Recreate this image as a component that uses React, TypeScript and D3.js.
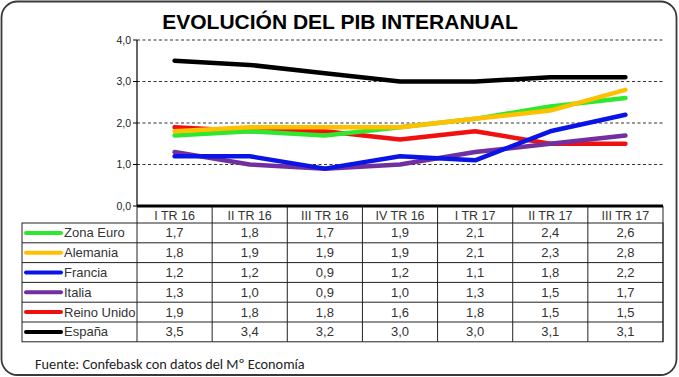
import React from "react";
import * as d3 from "d3";

const categories = ["I TR 16", "II TR 16", "III TR 16", "IV TR 16", "I TR 17", "II TR 17", "III TR 17"];
const seriesNames = ["Zona Euro", "Alemania", "Francia", "Italia", "Reino Unido", "España"];
const seriesColors = ["#2ee82e", "#ffc000", "#0a14e6", "#7030a0", "#f01010", "#000000"];
const zonaEuro = [1.7, 1.8, 1.7, 1.9, 2.1, 2.4, 2.6];
const alemania = [1.8, 1.9, 1.9, 1.9, 2.1, 2.3, 2.8];
const francia = [1.2, 1.2, 0.9, 1.2, 1.1, 1.8, 2.2];
const italia = [1.3, 1.0, 0.9, 1.0, 1.3, 1.5, 1.7];
const reinoUnido = [1.9, 1.8, 1.8, 1.6, 1.8, 1.5, 1.5];
const espana = [3.5, 3.4, 3.2, 3.0, 3.0, 3.1, 3.1];
const yTicks = [0, 1, 2, 3, 4];
const title = "EVOLUCIÓN DEL PIB INTERANUAL";
const source = "Fuente: Confebask con datos del Mº Economía";

const seriesValues = [zonaEuro, alemania, francia, italia, reinoUnido, espana];
const drawOrder = [4, 3, 2, 0, 1, 5];

export default function App() {
  const W = 679, H = 377;
  const left = 137, right = 663, top = 40, bottom = 206;
  const tableLeft = 22;
  const headerH = 17;
  const rowH = 19.8;
  const x = d3.scaleBand<string>().domain(categories).range([left, right]);
  const y = d3.scaleLinear().domain([0, 4]).range([bottom, top]);
  const fmt = (v: number) => d3.format(".1f")(v).replace(".", ",");
  const line = d3.line<number>()
    .x((_, i) => (x(categories[i]) as number) + x.bandwidth() / 2)
    .y((d) => y(d));
  const tableTop = bottom + headerH;
  const tableBottom = tableTop + rowH * seriesNames.length;
  const font = "Arial, 'Liberation Sans', sans-serif";

  return (
    <svg width={W} height={H} style={{ position: "absolute", left: 0, top: 0, background: "#fff" }}>
      <rect x={1.5} y={1.5} width={W - 4} height={H - 3.5} rx={16} ry={16} fill="#fff" stroke="#3a3a3a" strokeWidth={1.8} />
      <text x={340} y={29} textAnchor="middle" fontFamily={font} fontWeight="bold" fontSize={21} fill="#000">{title}</text>

      {/* grid */}
      {yTicks.filter((t) => t > 0).map((t) => (
        <line key={t} x1={left} x2={right} y1={y(t)} y2={y(t)} stroke="#333" strokeWidth={1} strokeDasharray="3,2.5" />
      ))}
      {/* y axis */}
      <line x1={left} x2={left} y1={top} y2={bottom} stroke="#000" strokeWidth={1.2} />
      {yTicks.map((t) => (
        <g key={"t" + t}>
          <line x1={left - 4} x2={left} y1={y(t)} y2={y(t)} stroke="#000" strokeWidth={1} />
          <text x={left - 6} y={y(t) + 3.5} textAnchor="end" fontFamily={font} fontSize={10.5} fill="#222">{fmt(t)}</text>
        </g>
      ))}

      {/* lines */}
      {drawOrder.map((si) => (
        <path key={seriesNames[si]} d={line(seriesValues[si]) as string} fill="none" stroke={seriesColors[si]}
          strokeWidth={4.5} strokeLinejoin="round" strokeLinecap="round" />
      ))}

      {/* table header */}
      {categories.map((c, i) => (
        <text key={c} x={(x(c) as number) + x.bandwidth() / 2} y={bottom + 13.5} textAnchor="middle" fontFamily={font} fontSize={12.5} fill="#333">{c}</text>
      ))}
      {/* table grid */}
      <rect x={tableLeft} y={tableTop} width={right - tableLeft} height={tableBottom - tableTop} fill="none" stroke="#222" strokeWidth={1} />
      {seriesNames.map((_, r) => r > 0 && (
        <line key={"r" + r} x1={tableLeft} x2={right} y1={tableTop + r * rowH} y2={tableTop + r * rowH} stroke="#222" strokeWidth={1} />
      ))}
      {categories.map((c, i) => (
        <line key={"c" + i} x1={x(c) as number} x2={x(c) as number} y1={bottom} y2={tableBottom} stroke="#222" strokeWidth={1} />
      ))}
      <line x1={right} x2={right} y1={bottom} y2={tableBottom} stroke="#222" strokeWidth={1} />
      {/* x axis */}
      <line x1={left} x2={right} y1={bottom} y2={bottom} stroke="#000" strokeWidth={3} />

      {/* rows */}
      {seriesNames.map((name, r) => {
        const cy = tableTop + r * rowH + rowH / 2;
        return (
          <g key={name}>
            <line x1={26} x2={61} y1={cy} y2={cy} stroke={seriesColors[r]} strokeWidth={4} strokeLinecap="round" />
            <text x={64} y={cy + 4.5} fontFamily={font} fontSize={13} fill="#333">{name}</text>
            {seriesValues[r].map((v, i) => (
              <text key={i} x={(x(categories[i]) as number) + x.bandwidth() / 2} y={cy + 4.5} textAnchor="middle"
                fontFamily={font} fontSize={13} fill="#333">{fmt(v)}</text>
            ))}
          </g>
        );
      })}

      <text x={35} y={369} fontFamily="Carlito, 'Open Sans', 'Noto Sans', sans-serif" fontSize={14.3} fill="#222">{source}</text>
    </svg>
  );
}
